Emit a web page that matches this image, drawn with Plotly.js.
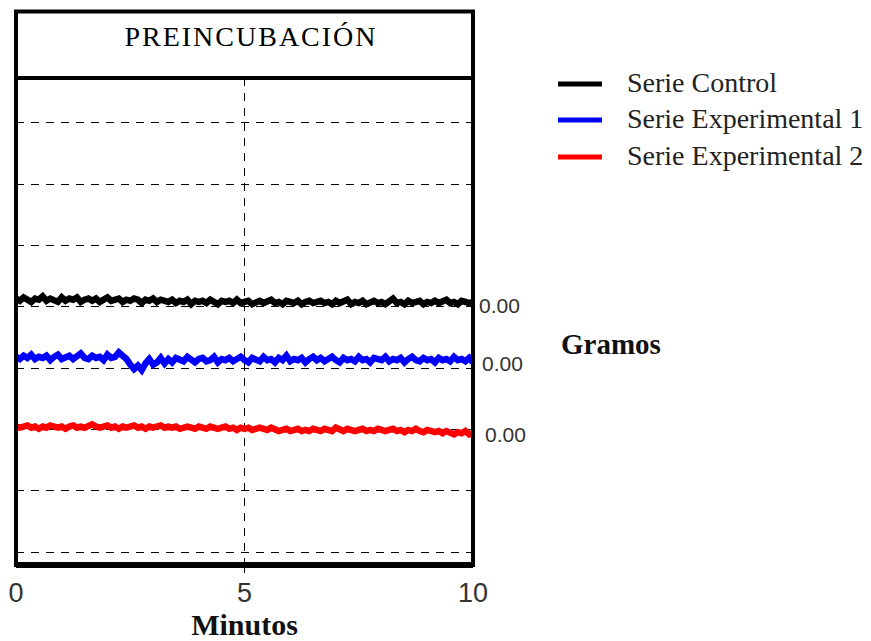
<!DOCTYPE html>
<html>
<head>
<meta charset="utf-8">
<script src="https://cdn.plot.ly/plotly-3.0.1.min.js"></script>
<style>
  html, body { margin: 0; padding: 0; background: #ffffff; }
  #grafico { width: 871px; height: 641px; }
</style>
</head>
<body>
<div id="grafico"></div>
<script>
// Registro de preincubación: tres canales de fuerza (gramos) frente al tiempo (minutos)
const CANALES = ['Serie Control', 'Serie Experimental 1', 'Serie Experimental 2'];
const TICKS_MINUTOS = [0, 5, 10];
const DURACION_MIN = 10;
const LINEA_BASE = [0, 0, 0]; // valor de referencia de cada canal (gramos)

// Desviación respecto a la línea base, un valor por muestra (121 muestras en 10 min)
const SERIE_CONTROL = [
  0.3,0.1,0.4,0.2,0.0,0.3,0.2,0.5,0.1,0.3,
  0.2,0.0,0.4,0.1,0.3,0.2,0.4,0.0,0.2,0.3,
  0.1,0.3,0.0,0.2,0.4,0.1,0.2,0.3,0.0,0.2,
  0.1,0.3,0.2,-0.1,0.2,0.1,0.3,0.0,0.2,0.1,
  0.0,0.2,-0.1,0.1,0.0,0.2,-0.2,0.1,0.0,0.1,
  -0.1,0.2,0.0,-0.2,0.1,0.0,0.1,-0.1,0.2,-0.1,
  0.0,0.1,-0.2,0.0,0.1,-0.1,0.0,0.2,-0.1,0.0,
  -0.2,0.1,0.0,-0.1,0.1,-0.2,0.0,0.1,-0.1,0.0,
  0.1,-0.1,0.0,-0.2,0.1,-0.1,0.0,0.2,-0.2,0.0,
  -0.1,0.1,-0.2,0.0,0.1,-0.1,0.0,-0.2,0.1,0.3,
  -0.1,0.0,-0.2,0.1,-0.1,0.0,0.1,-0.2,0.0,-0.1,
  0.1,-0.1,0.0,0.2,-0.1,0.0,-0.2,0.1,0.0,-0.1,
  0.0
];
const SERIE_EXP1 = [
  0.3,0.1,0.4,0.2,0.5,0.1,0.3,0.2,0.4,0.0,
  0.3,0.5,0.1,0.2,0.4,0.1,0.3,0.6,0.2,0.1,
  0.4,0.2,0.3,0.0,0.5,0.2,0.3,0.7,0.4,0.1,
  -0.4,-0.8,-0.5,-0.9,-0.3,0.1,-0.4,-0.2,0.2,-0.3,
  0.1,-0.2,0.2,0.0,-0.1,0.3,0.0,-0.2,0.1,0.2,
  -0.1,0.0,0.3,-0.2,0.1,0.0,0.2,-0.1,0.1,0.3,
  0.0,-0.2,0.2,0.1,-0.1,0.3,0.0,0.1,-0.2,0.2,
  0.0,0.4,-0.1,0.1,0.0,0.2,-0.2,0.1,0.3,0.0,
  0.2,-0.1,0.1,0.3,0.0,-0.2,0.2,0.0,0.1,-0.1,
  0.3,0.0,0.1,-0.2,0.2,0.1,0.0,0.3,-0.1,0.1,
  0.0,0.2,-0.2,0.1,0.3,0.0,-0.1,0.2,0.0,0.1,
  -0.2,0.2,0.0,0.1,-0.1,0.3,0.0,0.1,-0.1,0.2,
  -0.2
];
const SERIE_EXP2 = [
  0.2,0.1,0.2,0.3,0.1,0.2,0.0,0.2,0.1,0.3,
  0.2,0.1,0.2,0.0,0.2,0.3,0.1,0.2,0.1,0.3,
  0.4,0.2,0.1,0.2,0.3,0.1,0.2,0.0,0.2,0.1,
  0.2,0.3,0.1,0.2,0.0,0.2,0.1,0.2,0.3,0.1,
  0.2,0.1,0.2,0.0,0.1,0.2,0.1,0.0,0.2,0.1,
  0.0,0.2,0.1,0.0,0.1,0.2,0.0,0.1,-0.1,0.1,
  0.0,0.1,-0.1,0.0,0.1,0.0,-0.1,0.1,0.0,-0.2,
  -0.1,0.0,-0.2,-0.1,0.0,-0.2,-0.1,-0.2,0.0,-0.1,
  -0.2,0.0,-0.1,-0.2,0.1,-0.1,-0.2,0.0,-0.1,-0.2,
  -0.1,0.0,-0.2,-0.1,-0.2,0.0,-0.1,-0.2,-0.1,0.0,
  -0.2,-0.1,-0.3,-0.1,-0.2,0.0,-0.2,-0.3,-0.1,-0.2,
  -0.3,-0.2,-0.4,-0.2,-0.3,-0.5,-0.3,-0.4,-0.2,-0.5,
  -0.4
];
const SERIES = [SERIE_CONTROL, SERIE_EXP1, SERIE_EXP2];

// Instantes de muestreo (muestreo uniforme a lo largo del registro)
const TIEMPO = SERIE_CONTROL.map((_, i) => i * DURACION_MIN / (SERIE_CONTROL.length - 1));

// ---- Aspecto ----
const COLORES = ['#000000', '#0000ff', '#ff0000'];
const RANGO_REJILLA = [-0.212, 7.733];   // eje vertical: una unidad por línea de rejilla
const POS_CANAL = [4.08, 3.13, 2.01];     // posición de la línea base de cada canal en la rejilla
const GRAMOS_POR_REJILLA = 5.5;           // escala vertical de los canales
const DESPLAZ_ETIQ = [[4, -4], [7, -3], [10, -6]]; // [x, y] en px de cada rótulo de valor
const DASH = '8px,7px';
const SERIF = 'Liberation Serif, Times New Roman, serif';
const SANS = 'Liberation Sans, Arial, sans-serif';

// Conversión px -> coordenadas de papel del área de trazado
const AREA = { x0: 16, x1: 473, y0: 78, y1: 565 };
const px = v => (v - AREA.x0) / (AREA.x1 - AREA.x0);
const py = v => (AREA.y1 - v) / (AREA.y1 - AREA.y0);

// Cada canal se dibuja desplazado a su propia línea base dentro del eje común
const trazas = SERIES.map((serie, k) => ({
  type: 'scatter',
  mode: 'lines',
  name: CANALES[k],
  x: TIEMPO,
  y: serie.map(g => POS_CANAL[k] + (LINEA_BASE[k] + g) / GRAMOS_POR_REJILLA),
  line: { color: COLORES[k], width: 6.5 },
  hoverinfo: 'skip',
  showlegend: false
}));

// Rótulos de valor de cada canal, a la derecha del registro
const rotulosValor = LINEA_BASE.map((v, k) => ({
  xref: 'paper', yref: 'y',
  x: 1, y: POS_CANAL[k] + v / GRAMOS_POR_REJILLA,
  xanchor: 'left', yanchor: 'middle',
  xshift: DESPLAZ_ETIQ[k][0], yshift: DESPLAZ_ETIQ[k][1],
  text: v.toFixed(2),
  showarrow: false,
  font: { family: SANS, size: 21, color: '#333333' }
}));

// Leyenda: muestra de línea + nombre del canal
const LEYENDA_Y = [84, 120, 157];
const muestrasLeyenda = CANALES.map((_, k) => ({
  type: 'line', xref: 'paper', yref: 'paper',
  x0: px(558), x1: px(602), y0: py(LEYENDA_Y[k]), y1: py(LEYENDA_Y[k]),
  line: { color: COLORES[k], width: 5 }
}));
const textosLeyenda = CANALES.map((nombre, k) => ({
  xref: 'paper', yref: 'paper',
  x: px(625), y: py(LEYENDA_Y[k] - 2),
  xanchor: 'left', yanchor: 'middle',
  text: nombre,
  showarrow: false,
  font: { family: SERIF, size: 28, color: '#222222' }
}));

const layout = {
  width: 871,
  height: 641,
  margin: { l: AREA.x0, r: 871 - AREA.x1, t: AREA.y0, b: 641 - AREA.y1 },
  paper_bgcolor: '#ffffff',
  plot_bgcolor: '#ffffff',
  showlegend: false,
  title: {
    text: 'PREINCUBACIÓN',
    font: { family: SERIF, size: 28, color: '#000000' },
    xref: 'paper', x: px(251), xanchor: 'center',
    yref: 'container', y: 1 - 36 / 641, yanchor: 'middle'
  },
  xaxis: {
    range: [0, DURACION_MIN],
    tickvals: TICKS_MINUTOS,
    ticktext: TICKS_MINUTOS.map(String),
    ticks: '',
    minor: { tickvals: [5], ticks: 'outside', ticklen: 7, tickwidth: 1, tickcolor: '#000000', showgrid: false },
    showgrid: true, gridcolor: '#000000', gridwidth: 1, griddash: DASH,
    zeroline: false, showline: false,
    ticklabelstandoff: 9,
    tickfont: { family: SANS, size: 27, color: '#333333' },
    title: {
      text: '<b>Minutos</b>',
      font: { family: SERIF, size: 30, color: '#111111' },
      standoff: 4
    }
  },
  yaxis: {
    range: RANGO_REJILLA,
    tickvals: [0, 1, 2, 3, 4, 5, 6, 7],
    showticklabels: false,
    ticks: '',
    showgrid: true, gridcolor: '#000000', gridwidth: 1, griddash: DASH,
    zeroline: false, showline: false
  },
  annotations: rotulosValor.concat(textosLeyenda, [{
    xref: 'paper', yref: 'paper',
    x: px(611), y: py(344),
    xanchor: 'center', yanchor: 'middle',
    text: '<b>Gramos</b>',
    showarrow: false,
    font: { family: SERIF, size: 29, color: '#111111' }
  }]),
  shapes: [
    // marco exterior con la cabecera del título
    { type: 'rect', xref: 'paper', yref: 'paper', x0: 0, x1: 1, y0: 0, y1: py(11.5),
      line: { color: '#000000', width: 4 }, layer: 'above' },
    // separación entre cabecera y área de registro
    { type: 'line', xref: 'paper', yref: 'paper', x0: 0, x1: 1, y0: 1, y1: 1,
      line: { color: '#000000', width: 4 }, layer: 'above' },
    // borde inferior reforzado
    { type: 'line', xref: 'paper', yref: 'paper', x0: 0, x1: 1, y0: 0, y1: 0,
      line: { color: '#000000', width: 6 }, layer: 'above' }
  ].concat(muestrasLeyenda)
};

Plotly.newPlot('grafico', trazas, layout, { staticPlot: true, displayModeBar: false })
  .then(gd => {
    // título con espaciado entre letras más abierto
    const t = gd.querySelector('.gtitle');
    if (t) t.style.letterSpacing = '2px';
  });
</script>
</body>
</html>
